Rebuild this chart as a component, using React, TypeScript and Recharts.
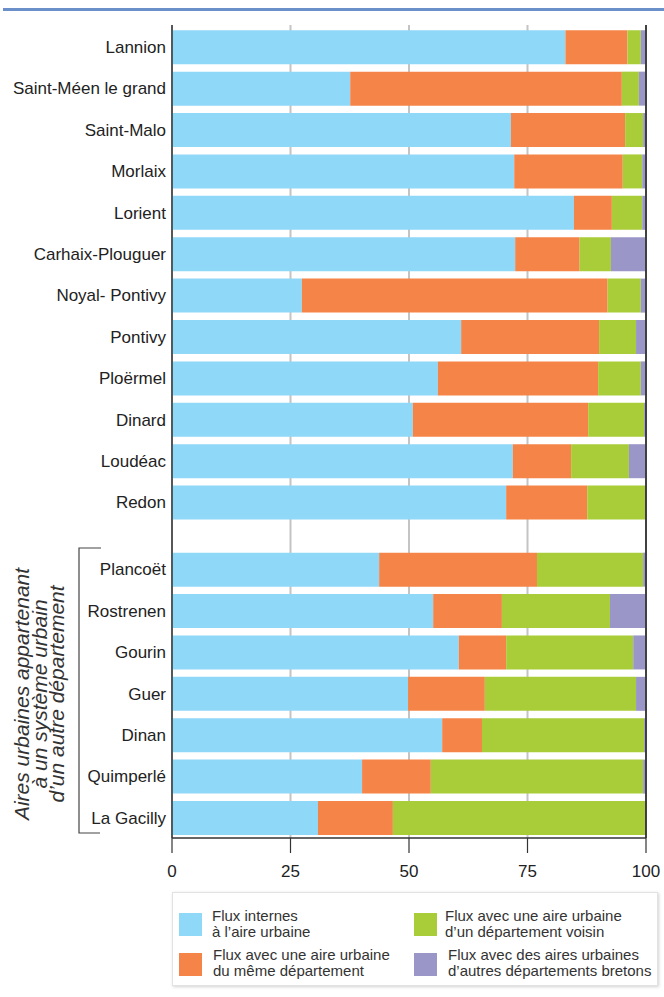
import React from "react";
import {
  BarChart,
  Bar,
  XAxis,
  YAxis,
  CartesianGrid,
  ReferenceLine,
} from "recharts";

const categories = [
  "Lannion",
  "Saint-Méen le grand",
  "Saint-Malo",
  "Morlaix",
  "Lorient",
  "Carhaix-Plouguer",
  "Noyal- Pontivy",
  "Pontivy",
  "Ploërmel",
  "Dinard",
  "Loudéac",
  "Redon",
  "Plancoët",
  "Rostrenen",
  "Gourin",
  "Guer",
  "Dinan",
  "Quimperlé",
  "La Gacilly",
];

const internes = [83.0, 37.6, 71.5, 72.2, 84.8, 72.4, 27.4, 61.0, 56.1, 50.8, 71.9, 70.5, 43.7, 55.1, 60.5, 49.8, 57.0, 40.1, 30.8];
const memeDep = [13.1, 57.3, 24.1, 22.9, 8.0, 13.6, 64.5, 29.1, 33.8, 37.0, 12.3, 17.1, 33.3, 14.5, 10.0, 16.2, 8.4, 14.5, 15.8];
const voisin = [2.8, 3.6, 3.8, 4.1, 6.4, 6.6, 7.0, 7.8, 9.0, 11.8, 12.2, 12.2, 22.4, 22.8, 26.8, 31.9, 34.2, 44.8, 53.2];
const autres = [1.1, 1.5, 0.6, 0.8, 0.8, 7.4, 1.1, 2.1, 1.1, 0.4, 3.6, 0.2, 0.6, 7.6, 2.7, 2.1, 0.4, 0.6, 0.2];

const xTicks = [0, 25, 50, 75, 100];

const seriesNames = [
  "Flux internes\nà l’aire urbaine",
  "Flux avec une aire urbaine\ndu même département",
  "Flux avec une aire urbaine\nd’un département voisin",
  "Flux avec des aires urbaines\nd’autres départements bretons",
];

const COLORS = ["#8FD8F7", "#F58449", "#A8CD39", "#9B96C8"];

// group of areas belonging to another department starts at this index
const SECOND_GROUP_START = 12;
const GROUP_GAP = 0.62;

const data = categories.map((name, i) => ({
  name,
  pos: i + (i >= SECOND_GROUP_START ? GROUP_GAP : 0),
  internes: internes[i],
  memeDep: memeDep[i],
  voisin: voisin[i],
  autres: autres[i],
}));

const yTicks = data.map((d) => d.pos);
const FONT = "'Liberation Sans', Arial, Helvetica, sans-serif";

const LegendItem = ({
  color,
  text,
  swLeft,
  swTop,
  txLeft,
  txTop,
}: {
  color: string;
  text: string;
  swLeft: number;
  swTop: number;
  txLeft: number;
  txTop: number;
}) => (
  <>
    <div
      style={{
        position: "absolute",
        left: swLeft,
        top: swTop,
        width: 23,
        height: 23,
        background: color,
      }}
    />
    <div
      style={{
        position: "absolute",
        left: txLeft,
        top: txTop,
        fontSize: 15,
        lineHeight: "16px",
        color: "#333",
        whiteSpace: "pre",
        fontFamily: FONT,
      }}
    >
      {text}
    </div>
  </>
);

export default function App() {
  return (
    <div
      style={{
        position: "absolute",
        left: 0,
        top: 0,
        width: 664,
        height: 997,
        background: "#fff",
        fontFamily: FONT,
        overflow: "hidden",
      }}
    >
      <div
        style={{
          position: "absolute",
          left: 3,
          top: 8,
          width: 661,
          height: 3,
          background: "#6B8FC9",
        }}
      />
      <div style={{ position: "absolute", left: 0, top: 0 }}>
        <BarChart
          width={664}
          height={890}
          data={data}
          layout="vertical"
          margin={{ top: 25, right: 18, bottom: 0, left: 0 }}
        >
          <CartesianGrid
            horizontal={false}
            vertical={true}
            stroke="#C4C4C4"
            strokeWidth={2}
          />
          <XAxis
            type="number"
            domain={[0, 100]}
            ticks={xTicks}
            interval={0}
            height={52}
            tickSize={15}
            tickMargin={12}
            axisLine={{ stroke: "#333", strokeWidth: 1.5 }}
            tickLine={{ stroke: "#333", strokeWidth: 1.2 }}
            tick={{ fontSize: 17, fill: "#222", fontFamily: FONT }}
          />
          <XAxis
            xAxisId="top"
            orientation="top"
            type="number"
            domain={[0, 100]}
            height={0}
            tick={false}
            tickLine={false}
            axisLine={{ stroke: "#333", strokeWidth: 1.5 }}
          />
          <YAxis
            type="number"
            dataKey="pos"
            domain={[-0.53, 19.11]}
            allowDataOverflow
            ticks={yTicks}
            interval={0}
            width={172}
            tickSize={6}
            tickMargin={0}
            tickLine={false}
            axisLine={{ stroke: "#333", strokeWidth: 1.5 }}
            tickFormatter={(v: number) => {
              const d = data.find((x) => Math.abs(x.pos - v) < 1e-6);
              return d ? d.name : "";
            }}
            tick={{ fontSize: 17, fill: "#222", fontFamily: FONT }}
          />
          <Bar dataKey="internes" stackId="a" fill={COLORS[0]} barSize={34} isAnimationActive={false} />
          <Bar dataKey="memeDep" stackId="a" fill={COLORS[1]} barSize={34} isAnimationActive={false} />
          <Bar dataKey="voisin" stackId="a" fill={COLORS[2]} barSize={34} isAnimationActive={false} />
          <Bar dataKey="autres" stackId="a" fill={COLORS[3]} barSize={34} isAnimationActive={false} />
          <ReferenceLine x={100} stroke="#333" strokeWidth={1.8} />
        </BarChart>
      </div>
      <svg
        width={170}
        height={997}
        style={{ position: "absolute", left: 0, top: 0, pointerEvents: "none" }}
      >
        <polyline
          points="101,548 79,548 79,833 100,833"
          fill="none"
          stroke="#444"
          strokeWidth={1.2}
        />
        <g fontFamily={FONT} fontSize={21} fill="#333" fontStyle="italic" textAnchor="middle">
          <text transform="translate(29,694) rotate(-90)">Aires urbaines appartenant</text>
          <text transform="translate(47,694) rotate(-90)">à un système urbain</text>
          <text transform="translate(64,694) rotate(-90)">d’un autre département</text>
        </g>
      </svg>
      <div
        style={{
          position: "absolute",
          left: 172,
          top: 892,
          width: 486,
          height: 94,
          border: "1px solid #E2E2E2",
          boxShadow: "1px 1px 3px rgba(0,0,0,0.18)",
          boxSizing: "border-box",
          background: "#fff",
        }}
      >
        <LegendItem color={COLORS[0]} text={seriesNames[0]} swLeft={6} swTop={20} txLeft={39} txTop={15} />
        <LegendItem color={COLORS[1]} text={seriesNames[1]} swLeft={6} swTop={60} txLeft={40} txTop={54} />
        <LegendItem color={COLORS[2]} text={seriesNames[2]} swLeft={241} swTop={20} txLeft={272} txTop={15} />
        <LegendItem color={COLORS[3]} text={seriesNames[3]} swLeft={241} swTop={60} txLeft={275} txTop={54} />
      </div>
    </div>
  );
}
